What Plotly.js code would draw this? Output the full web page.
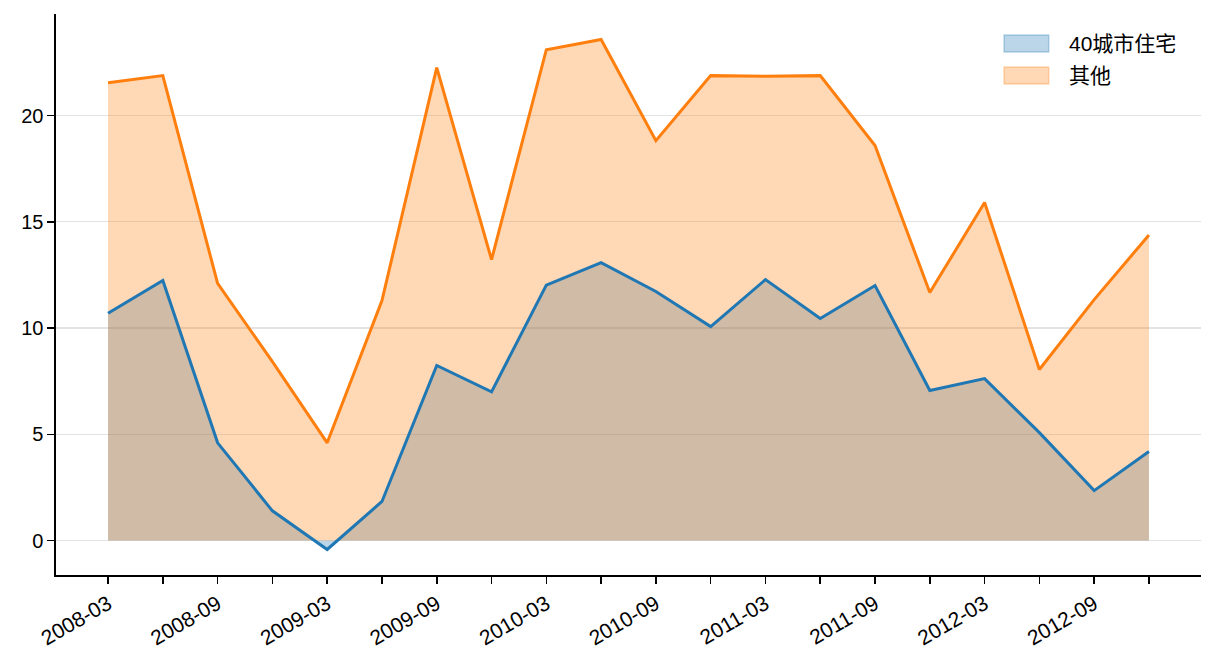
<!DOCTYPE html>
<html>
<head>
<meta charset="utf-8">
<script src="https://cdn.plot.ly/plotly-3.0.1.min.js"></script>
<style>
  html, body { margin: 0; padding: 0; background: #fff; }
  #chart { width: 1216px; height: 672px; }
</style>
</head>
<body>
<div id="chart"></div>
<script>
// quarterly points, 2008-03 .. 2012-12
const quarters = [
  '2008-03', '2008-06', '2008-09', '2008-12',
  '2009-03', '2009-06', '2009-09', '2009-12',
  '2010-03', '2010-06', '2010-09', '2010-12',
  '2011-03', '2011-06', '2011-09', '2011-12',
  '2012-03', '2012-06', '2012-09', '2012-12',
];
const city40Housing = [
  10.7, 12.24, 4.6, 1.4,
  -0.42, 1.84, 8.24, 7.0,
  12.02, 13.08, 11.72, 10.07,
  12.28, 10.45, 12.0, 7.06,
  7.62, 5.08, 2.35, 4.19,
];
const others = [
  21.55, 21.88, 12.1, 8.42,
  4.6, 11.29, 22.26, 13.22,
  23.1, 23.58, 18.82, 21.88,
  21.85, 21.88, 18.59, 11.67,
  15.91, 8.05, 11.34, 14.38,
];
const seriesNames = ['40城市住宅', '其他'];
const tickLabels = quarters.map((q, i) => (i % 2 === 0 ? q : ''));

const BLUE = '#1f77b4';
const ORANGE = '#ff7f0e';
const BLUE_FILL = 'rgba(31,119,180,0.3)';
const ORANGE_FILL = 'rgba(255,127,14,0.3)';
const FONT = 'Liberation Sans, Arial, Noto Sans CJK SC, sans-serif';

const areaTrace = (y, name, fill) => ({
  x: quarters,
  y: y,
  name: name,
  type: 'scatter',
  mode: 'lines',
  fill: 'tozeroy',
  fillcolor: fill,
  line: { color: fill, width: 1 },
  showlegend: false,
  hoverinfo: 'skip',
});

const lineTrace = (y, color) => ({
  x: quarters,
  y: y,
  type: 'scatter',
  mode: 'lines',
  line: { color: color, width: 3 },
  showlegend: false,
  hoverinfo: 'skip',
});

const data = [
  areaTrace(city40Housing, seriesNames[0], BLUE_FILL),
  areaTrace(others, seriesNames[1], ORANGE_FILL),
  lineTrace(city40Housing, BLUE),
  lineTrace(others, ORANGE),
];

// legend drawn by hand, matplotlib style (patch + label)
const legendRows = [
  { name: seriesNames[0], fill: BLUE_FILL, top: 0.9626, bottom: 0.9323 },
  { name: seriesNames[1], fill: ORANGE_FILL, top: 0.9055, bottom: 0.8752 },
];
const legendShapes = legendRows.map(r => ({
  type: 'rect', xref: 'paper', yref: 'paper',
  x0: 0.828, x1: 0.867, y0: r.bottom, y1: r.top,
  fillcolor: r.fill,
  line: { color: r.fill, width: 1.5 },
  layer: 'above',
}));
const legendText = legendRows.map(r => ({
  xref: 'paper', yref: 'paper',
  x: 0.883, y: (r.top + r.bottom) / 2,
  xanchor: 'left', yanchor: 'middle',
  text: r.name, showarrow: false,
  font: { family: FONT, size: 21, color: '#000' },
}));

const layout = {
  width: 1216,
  height: 672,
  margin: { l: 56, r: 15, t: 14, b: 97 },
  paper_bgcolor: '#fff',
  plot_bgcolor: '#fff',
  font: { family: FONT, size: 20, color: '#000' },
  showlegend: false,
  shapes: legendShapes,
  annotations: legendText,
  xaxis: {
    type: 'category',
    range: [-0.95, 19.95],
    tickmode: 'array',
    tickvals: quarters,
    ticktext: tickLabels,
    tickangle: -30,
    ticks: 'outside',
    ticklen: 7,
    tickwidth: 1.6,
    tickcolor: '#000',
    showline: true,
    linecolor: '#000',
    linewidth: 1.6,
    showgrid: false,
    zeroline: false,
    tickfont: { family: FONT, size: 21 },
  },
  yaxis: {
    range: [-1.62, 24.78],
    tickmode: 'linear',
    tick0: 0,
    dtick: 5,
    ticks: 'outside',
    ticklen: 7,
    tickwidth: 1.6,
    tickcolor: '#000',
    showline: true,
    linecolor: '#000',
    linewidth: 1.6,
    showgrid: true,
    gridcolor: '#e3e3e3',
    gridwidth: 1.2,
    zeroline: false,
    layer: 'above traces',
    tickfont: { family: FONT, size: 20 },
  },
};

Plotly.newPlot('chart', data, layout, { staticPlot: true, displayModeBar: false });
</script>
</body>
</html>
